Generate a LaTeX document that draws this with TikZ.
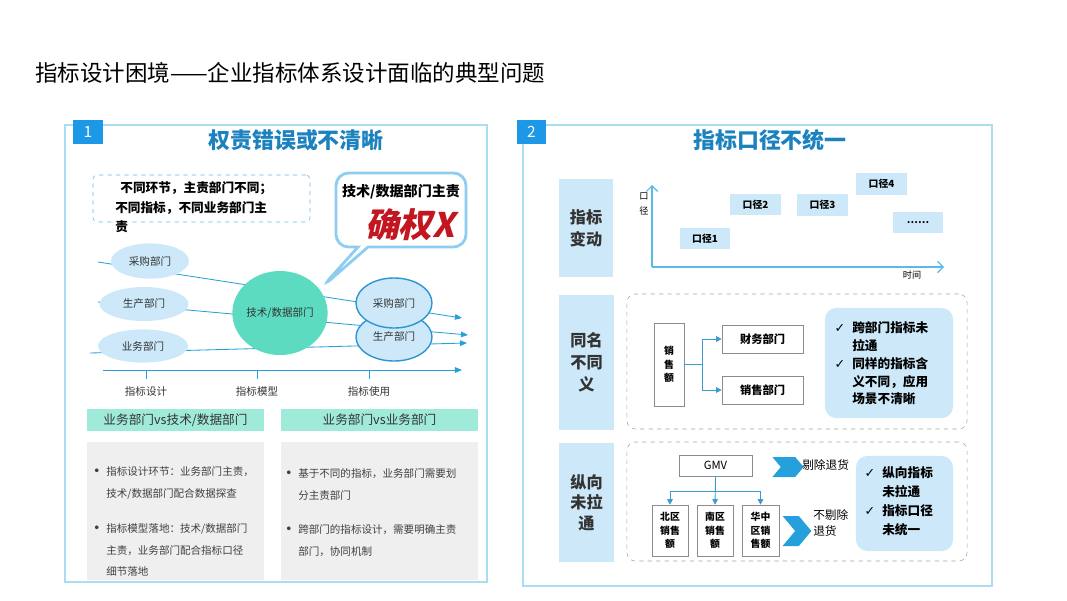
\documentclass[tikz,border=0pt]{standalone}
\usepackage{fontspec}
\setmainfont{Noto Sans CJK SC}
\newfontfamily\slantcjk{Noto Sans CJK SC}[FakeSlant=0.22]
\newfontfamily\symfont{DejaVu Sans}
\usetikzlibrary{arrows.meta,shapes.geometric,shapes.callouts,shapes.symbols}
\definecolor{framecol}{RGB}{170,221,240}
\definecolor{badgecol}{RGB}{28,152,230}
\definecolor{headcol}{RGB}{27,130,190}
\definecolor{paleblue}{RGB}{205,233,249}
\definecolor{flowcol}{RGB}{38,160,220}
\definecolor{ringcol}{RGB}{45,150,210}
\definecolor{hubcol}{RGB}{92,219,192}
\definecolor{tealcol}{RGB}{160,234,218}
\definecolor{graycol}{RGB}{239,239,239}
\definecolor{dashcol}{RGB}{165,165,165}
\definecolor{linkcol}{RGB}{60,155,205}
\definecolor{redcol}{RGB}{195,22,32}
\definecolor{bubblecol}{RGB}{140,205,240}
\definecolor{axiscol}{RGB}{90,185,230}
\newcommand{\chk}{{\symfont\char"2713}}
\newcommand{\dotmark}{\llap{{\symfont\fontsize{9}{9}\selectfont\char"2022}\hspace{4pt}}}
\begin{document}
\begin{tikzpicture}[x=0.025cm,y=-0.025cm,
  frame/.style={draw=framecol,line width=0.8pt},
  badge/.style={fill=badgecol,text=white,minimum width=0.73cm,minimum height=0.6cm,inner sep=0,font=\fontsize{11}{12}\selectfont},
  heading/.style={text=headcol,font=\fontsize{15.6}{18}\selectfont\bfseries},
  dept/.style={ellipse,fill=paleblue,inner sep=0,text=black!80,font=\fontsize{7.5}{9}\selectfont},
  deptring/.style={dept,draw=ringcol,line width=1pt},
  flow/.style={draw=flowcol,line width=0.6pt},
  tip/.style={-{Triangle[length=5pt,width=4pt]}},
  stage/.style={below=2pt,text=black!80,font=\fontsize{7.5}{9}\selectfont},
  tealbar/.style={fill=tealcol,minimum height=0.55cm,inner sep=0,text=black!80,font=\fontsize{9}{10}\selectfont},
  graybox/.style={fill=graycol,minimum height=3.45cm,inner sep=0},
  bullets/.style={anchor=west,align=left,inner sep=0,text=black!75,font=\fontsize{7.5}{15.6}\selectfont},
  sidebox/.style={fill=paleblue,minimum width=1.35cm,inner sep=0,align=center,text=black!80,font=\fontsize{11.5}{15.5}\selectfont\bfseries},
  caliber/.style={fill=paleblue,minimum width=1.26cm,minimum height=0.53cm,inner sep=0,font=\fontsize{7}{8}\selectfont\bfseries},
  dashbox/.style={draw=dashcol,dashed,rounded corners=6pt,minimum width=8.5cm,inner sep=0},
  plain/.style={draw=black!45,fill=white,inner sep=0,align=center,font=\fontsize{7}{9.6}\selectfont\bfseries},
  link/.style={draw=linkcol,line width=0.6pt},
  linktip/.style={link,-{Triangle[length=4pt,width=4pt]}},
  summary/.style={fill=paleblue,rounded corners=8pt,inner sep=0},
  checks/.style={anchor=west,align=left,inner sep=0,font=\fontsize{9}{12.6}\selectfont\bfseries},
  chevron/.style={signal,signal to=east,signal from=west,signal pointer angle=100,fill=flowcol,inner sep=0}
]
\useasboundingbox (0,0) rectangle (1067,600);

\node[anchor=west,inner sep=0,font=\fontsize{16}{18}\selectfont] (maintitle) at (35,73) {指标设计困境——企业指标体系设计面临的典型问题};

% panel 1
\draw[frame] (65,125) rectangle (487,582);
\node[badge] (b1) at (88,132) {1};
\node[heading] (t1) at (296,140) {权责错误或不清晰};

\node[draw=ringcol!70,dashed,rounded corners=3pt,minimum width=5.425cm,minimum height=1.175cm] (note) at (201.5,198.5) {};
\node[anchor=west,align=left,inner sep=0,font=\fontsize{9}{13.9}\selectfont\bfseries] (notetxt) at (115,207.5)
  {\hspace*{3.6pt}不同环节，主责部门不同；\\不同指标，不同业务部门主\\责};

\coordinate (p1) at (98,262);  \coordinate (q1) at (462,318);
\coordinate (p2) at (98,302);  \coordinate (q2) at (468,335);
\coordinate (p3) at (90,353);  \coordinate (q3) at (467,343);
\draw[flow,tip] (p1) -- (q1);
\draw[flow,tip] (p2) -- (q2);
\draw[flow,tip] (p3) -- (q3);

\node[dept,minimum width=1.95cm,minimum height=0.88cm] (buy) at (150,261) {采购部门};
\node[dept,minimum width=2.22cm,minimum height=0.85cm] (make) at (144,304) {生产部门};
\node[dept,minimum width=2.25cm,minimum height=0.83cm] (biz) at (143,346) {业务部门};
\node[ellipse,fill=hubcol,minimum width=2.28cm,minimum height=2.1cm,inner sep=0,text=black!80,font=\fontsize{7.5}{9}\selectfont] (tech) at (280,313) {技术/数据部门};
\node[deptring,minimum width=1.9cm,minimum height=1.2cm] (make2) at (394,337) {生产部门};
\node[deptring,minimum width=1.9cm,minimum height=1.25cm] (buy2) at (394,303) {采购部门};

\node[rectangle callout,draw=bubblecol,line width=2pt,fill=white,rounded corners=9pt,minimum width=3.25cm,minimum height=1.85cm,callout absolute pointer={(322,287)}] (bubble) at (401,210) {};
\node[inner sep=0,font=\fontsize{10}{12}\selectfont\bfseries] (owner) at (401,192) {技术/数据部门主责};
\node[inner sep=0,text=redcol,font=\slantcjk\fontsize{24}{26}\selectfont\bfseries] (confirm) at (410,225) {确权X};

\coordinate (a0) at (103,370); \coordinate (a1) at (462,370);
\draw[flow,tip] (a0) -- (a1);
\foreach \x/\t/\n in {146/指标设计/s1,257/指标模型/s2,369/指标使用/s3}
  \draw[flow] (\x,370) -- (\x,379) node[stage] (\n) {\t};

\node[tealbar,minimum width=4.425cm] (h1) at (175.5,420) {业务部门vs技术/数据部门};
\node[tealbar,minimum width=4.925cm] (h2) at (379.5,420) {业务部门vs业务部门};
\node[graybox,minimum width=4.425cm] (g1) at (175.5,511) {};
\node[graybox,minimum width=4.925cm] (g2) at (379.5,511) {};
\node[bullets] (l1) at (106,483) {\dotmark 指标设计环节：业务部门主责，\\技术/数据部门配合数据探查};
\node[bullets] (l2) at (106,550) {\dotmark 指标模型落地：技术/数据部门\\主责，业务部门配合指标口径\\细节落地};
\node[bullets] (r1) at (298,484.5) {\dotmark 基于不同的指标，业务部门需要划\\分主责部门};
\node[bullets] (r2) at (298,540.5) {\dotmark 跨部门的指标设计，需要明确主责\\部门，协同机制};

% panel 2
\draw[frame] (523,125) rectangle (992,586);
\node[badge] (b2) at (531.5,132) {2};
\node[heading] (t2) at (770,140) {指标口径不统一};

\node[sidebox,minimum height=2.45cm] (k1) at (586,228) {指标\\变动};
\node[sidebox,minimum height=3.375cm] (k2) at (586.5,362.5) {同名\\不同\\义};
\node[sidebox,minimum height=2.975cm,font=\fontsize{11.5}{14.5}\selectfont\bfseries] (k3) at (586.5,502.5) {纵向\\未拉\\通};

\coordinate (o) at (652,267);
\coordinate (ytop) at (652,185);
\coordinate (xend) at (944,267);
\draw[axiscol,line width=0.8pt,-{Straight Barb[length=4pt,width=8pt]}] (o) -- (ytop);
\draw[axiscol,line width=0.8pt,-{Straight Barb[length=4pt,width=8pt]}] (o) -- (xend);
\node[align=center,inner sep=0,font=\fontsize{6.5}{10.5}\selectfont] (ylab) at (644,204) {口\\径};
\node[inner sep=0,font=\fontsize{6.5}{8}\selectfont] (xlab) at (912,275) {时间};
\node[caliber] (c1) at (705,238.5) {口径1};
\node[caliber] (c2) at (755.5,204.5) {口径2};
\node[caliber] (c3) at (822.5,205) {口径3};
\node[caliber] (c4) at (881.5,184) {口径4};
\node[caliber] (c5) at (918,222.5) {……};

\node[dashbox,minimum height=3.375cm] (d2) at (797,361.5) {};
\node[plain,minimum width=0.75cm,minimum height=2.075cm] (sales) at (669,364.5) {销\\售\\额};
\node[plain,minimum width=2.025cm,minimum height=0.7cm,font=\fontsize{8}{9}\selectfont\bfseries] (fin) at (762.5,339) {财务部门};
\node[plain,minimum width=2.025cm,minimum height=0.7cm,font=\fontsize{8}{9}\selectfont\bfseries] (sell) at (762.5,390) {销售部门};
\draw[linktip] (sales.east) -- ++(18,0) |- (fin.west);
\draw[linktip] (sales.east) -- ++(18,0) |- (sell.west);
\node[summary,minimum width=3.2cm,minimum height=2.75cm] (m2) at (889,363) {};
\node[checks] (m2txt) at (852,363.5) {\llap{\chk\hspace{5pt}}跨部门指标未\\拉通\\\llap{\chk\hspace{5pt}}同样的指标含\\义不同，应用\\场景不清晰};

\node[dashbox,minimum height=2.975cm] (d3) at (797,501.5) {};
\node[plain,minimum width=1.825cm,minimum height=0.525cm,font=\fontsize{8}{9}\selectfont] (gmv) at (715.5,465.5) {GMV};
\node[plain,minimum width=0.9cm,minimum height=1.275cm] (north) at (670,530.5) {北区\\销售\\额};
\node[plain,minimum width=0.9cm,minimum height=1.275cm] (south) at (715,530.5) {南区\\销售\\额};
\node[plain,minimum width=0.92cm,minimum height=1.275cm] (central) at (760.5,530.5) {华中\\区销\\售额};
\draw[linktip] (gmv.south) -- ++(0,15) -| (north.north);
\draw[linktip] (gmv.south) -- (south.north);
\draw[linktip] (gmv.south) -- ++(0,15) -| (central.north);
\node[chevron,minimum width=0.78cm,minimum height=0.5cm] (v1) at (788,467) {};
\node[anchor=west,inner sep=0,font=\fontsize{8.3}{10}\selectfont] (keep) at (802,465) {剔除退货};
\node[chevron,minimum width=0.72cm,minimum height=0.75cm] (v2) at (797,531) {};
\node[anchor=west,align=left,inner sep=0,font=\fontsize{8.3}{11.5}\selectfont] (drop) at (813,523) {不剔除\\退货};
\node[summary,minimum width=2.425cm,minimum height=2.375cm] (m3) at (904.5,503.5) {};
\node[checks,font=\fontsize{9}{13.5}\selectfont\bfseries] (m3txt) at (882,501.5) {\llap{\chk\hspace{5pt}}纵向指标\\未拉通\\\llap{\chk\hspace{5pt}}指标口径\\未统一};
\end{tikzpicture}
\end{document}
